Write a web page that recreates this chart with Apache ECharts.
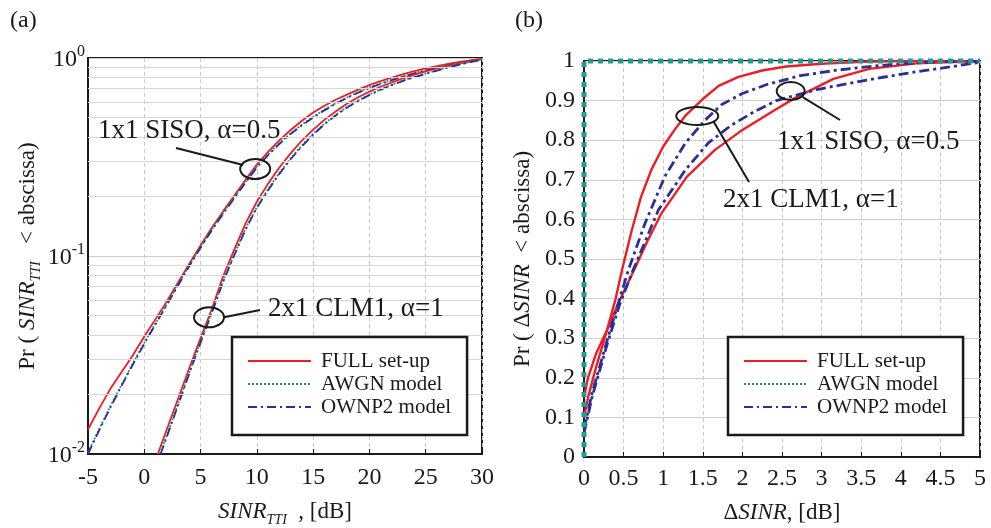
<!DOCTYPE html>
<html><head><meta charset="utf-8">
<script src="https://cdn.jsdelivr.net/npm/echarts@6/dist/echarts.min.js"></script>
<style>html,body{margin:0;padding:0;background:#fff}#c{width:991px;height:528px}</style>
</head><body><div id="c"></div>
<script>
const FONT = '"Liberation Serif", "DejaVu Serif", serif';
const RED = '#ee1c25', GREEN = '#1b8f72', BLUE = '#2b2f96', TEAL = '#1f9c94', INK = '#1a1a1a';

// ---------- Panel (a): CDF of SINR_TTI (log y) ----------
const leftSisoFull = [[-5,0.0133],[-4,0.0170],[-3,0.0214],[-2,0.0260],[-1,0.0316],[0,0.0392],[1,0.0480],[2,0.0590],[3,0.0735],[4,0.0915],[5,0.113],[6,0.139],[7,0.168],[8,0.202],[9,0.243],[10,0.290],[11,0.336],[12,0.384],[13,0.433],[14,0.482],[15,0.530],[16,0.574],[17,0.615],[18,0.653],[19,0.692],[20,0.730],[21,0.765],[22,0.797],[23,0.828],[24,0.858],[25,0.886],[26,0.911],[27,0.934],[28,0.955],[29,0.974],[30,0.990]];
const leftSisoAwgn = [[-5,0.0102],[-4,0.0134],[-3,0.0175],[-2,0.0225],[-1,0.0288],[0,0.0365],[1,0.0458],[2,0.0572],[3,0.0716],[4,0.0897],[5,0.111],[6,0.136],[7,0.165],[8,0.198],[9,0.237],[10,0.283],[11,0.326],[12,0.371],[13,0.416],[14,0.461],[15,0.504],[16,0.548],[17,0.591],[18,0.632],[19,0.672],[20,0.709],[21,0.744],[22,0.777],[23,0.809],[24,0.840],[25,0.869],[26,0.896],[27,0.922],[28,0.946],[29,0.967],[30,0.987]];
const leftSisoOwnp2 = [[-5,0.0100],[-4,0.0132],[-3,0.0172],[-2,0.0222],[-1,0.0284],[0,0.0360],[1,0.0452],[2,0.0566],[3,0.0710],[4,0.0890],[5,0.110],[6,0.135],[7,0.163],[8,0.196],[9,0.235],[10,0.280],[11,0.323],[12,0.368],[13,0.413],[14,0.457],[15,0.500],[16,0.544],[17,0.587],[18,0.628],[19,0.668],[20,0.705],[21,0.740],[22,0.773],[23,0.805],[24,0.836],[25,0.866],[26,0.893],[27,0.919],[28,0.943],[29,0.965],[30,0.985]];
const leftClmFull = [[1.2,0.0100],[2,0.0133],[3,0.0190],[4,0.0272],[5,0.0385],[6,0.0540],[7,0.0790],[8,0.108],[9,0.146],[10,0.188],[11,0.232],[12,0.280],[13,0.330],[14,0.383],[15,0.435],[16,0.487],[17,0.537],[18,0.588],[19,0.634],[20,0.676],[21,0.716],[22,0.754],[23,0.790],[24,0.824],[25,0.856],[26,0.886],[27,0.914],[28,0.940],[29,0.964],[30,0.987]];
const leftClmAwgn = [[1.4,0.0100],[2,0.0124],[3,0.0179],[4,0.0259],[5,0.0370],[6,0.0522],[7,0.0750],[8,0.102],[9,0.138],[10,0.177],[11,0.218],[12,0.263],[13,0.311],[14,0.362],[15,0.414],[16,0.466],[17,0.516],[18,0.565],[19,0.611],[20,0.654],[21,0.695],[22,0.734],[23,0.771],[24,0.804],[25,0.836],[26,0.868],[27,0.899],[28,0.929],[29,0.956],[30,0.982]];
const leftClmOwnp2 = [[1.45,0.0100],[2,0.0122],[3,0.0176],[4,0.0255],[5,0.0365],[6,0.0515],[7,0.0740],[8,0.101],[9,0.136],[10,0.175],[11,0.215],[12,0.260],[13,0.308],[14,0.358],[15,0.410],[16,0.462],[17,0.512],[18,0.561],[19,0.607],[20,0.650],[21,0.691],[22,0.730],[23,0.767],[24,0.800],[25,0.832],[26,0.864],[27,0.895],[28,0.925],[29,0.953],[30,0.980]];
const leftMinorGrid = [0.02,0.03,0.04,0.05,0.06,0.07,0.08,0.09,0.2,0.3,0.4,0.5,0.6,0.7,0.8,0.9];

// ---------- Panel (b): CDF of delta SINR ----------
const rightAwgn = [[0,0],[0,1],[5,1]];
const rightClmFull = [[0,0.10],[0.05,0.15],[0.15,0.225],[0.29,0.32],[0.4,0.40],[0.48,0.472],[0.6,0.57],[0.72,0.657],[0.85,0.725],[1.0,0.784],[1.15,0.828],[1.28,0.862],[1.5,0.904],[1.7,0.937],[1.95,0.960],[2.25,0.976],[2.55,0.986],[3.0,0.993],[3.5,0.998],[4.0,1.0],[5,1.0]];
const rightSisoFull = [[0,0.15],[0.05,0.20],[0.15,0.26],[0.29,0.32],[0.45,0.395],[0.65,0.48],[0.8,0.545],[0.98,0.616],[1.3,0.708],[1.65,0.775],[2.0,0.826],[2.4,0.875],[2.65,0.905],[3.15,0.955],[3.6,0.980],[4.2,0.994],[5,1.0]];
const rightClmOwnp2 = [[0,0.07],[0.1,0.16],[0.3,0.30],[0.45,0.40],[0.56,0.472],[0.77,0.59],[1.02,0.708],[1.28,0.793],[1.53,0.851],[1.74,0.89],[2.0,0.918],[2.3,0.94],[2.73,0.963],[3.2,0.977],[3.6,0.986],[4.0,0.993],[4.5,0.998],[5,1.0]];
const rightSisoOwnp2 = [[0,0.06],[0.1,0.15],[0.3,0.29],[0.45,0.385],[0.62,0.472],[0.94,0.624],[1.28,0.725],[1.57,0.793],[1.86,0.838],[2.15,0.872],[2.43,0.90],[2.94,0.928],[3.57,0.952],[4.2,0.973],[4.62,0.985],[5,0.997]];

const legendNames = ['FULL set-up','AWGN model','OWNP2 model'];

const chart = echarts.init(document.getElementById('c'), null, {renderer:'canvas'});

const nameRich = {
  n: {fontFamily: FONT, fontSize: 23, color: INK, verticalAlign: 'top', lineHeight: 28},
  i: {fontFamily: FONT, fontSize: 23, fontStyle: 'italic', color: INK, verticalAlign: 'top', lineHeight: 28},
  s: {fontFamily: FONT, fontSize: 14, fontStyle: 'italic', color: INK, verticalAlign: 'top', lineHeight: 18, padding: [13,0,0,0]}
};
const tickLabel = {fontFamily: FONT, fontSize: 24, color: INK};
const axisLine = {show: true, onZero: false, lineStyle: {color: INK, width: 2}};
const axisTick = {show: true, inside: true, length: 5, lineStyle: {color: INK, width: 1}};
const vGrid = {show: true, lineStyle: {color: '#c9c9c9', type: [4,3], width: 1}};
const hGrid = {show: true, lineStyle: {color: '#cfcfcf', type: 'solid', width: 1}};

function lineSeries(name, data, xi, color, type, width, z) {
  return {name, type: 'line', xAxisIndex: xi, yAxisIndex: xi, data, symbol: 'none',
    showSymbol: false, z: z || 3, animation: false, silent: true,
    lineStyle: {color, type, width}, itemStyle: {color}};
}
const dashDot = [9,4,2,4];

const legendBase = {
  orient: 'vertical', top: 337, padding: [13,16,17,15],
  borderColor: INK, borderWidth: 2.5, backgroundColor: '#fff',
  itemWidth: 63, itemHeight: 14, itemGap: 1, selectedMode: false,
  itemStyle: {opacity: 0, borderWidth: 0},
  textStyle: {fontFamily: FONT, fontSize: 21, color: INK, lineHeight: 22, padding: [0,0,0,5]},
  data: legendNames, z: 20
};

const option = {
  animation: false,
  backgroundColor: '#fff',
  grid: [
    {left: 88, top: 58, width: 394, height: 396, show: true, borderColor: INK, borderWidth: 2, outerBoundsMode: 'none', containLabel: false},
    {left: 584, top: 61, width: 396, height: 396, show: true, borderColor: INK, borderWidth: 2, outerBoundsMode: 'none', containLabel: false}
  ],
  legend: [
    Object.assign({}, legendBase, {left: 232}),
    Object.assign({}, legendBase, {left: 728})
  ],
  xAxis: [
    {gridIndex: 0, type: 'value', min: -5, max: 30, interval: 5,
     axisLine, axisTick, axisLabel: Object.assign({margin: 12}, tickLabel), splitLine: vGrid,
     name: '{i|SINR}{s|TTI}{n|  , [dB]}', nameLocation: 'middle', nameGap: 46,
     nameTextStyle: {rich: nameRich}},
    {gridIndex: 1, type: 'value', min: 0, max: 5, interval: 0.5,
     axisLine, axisTick, axisLabel: Object.assign({margin: 10}, tickLabel), splitLine: vGrid,
     name: '{n|Δ}{i|SINR}{n|, [dB]}', nameLocation: 'middle', nameGap: 44,
     nameTextStyle: {rich: nameRich}}
  ],
  yAxis: [
    {gridIndex: 0, type: 'log', logBase: 10, min: 0.01, max: 1,
     axisLine, axisTick: {show: false}, splitLine: hGrid,
     axisLabel: {margin: 3, formatter: function (v) {
        const e = Math.round(Math.log10(v));
        return '{b|10}{p|' + e + '}';
      },
      rich: {
        b: {fontFamily: FONT, fontSize: 24, color: INK, verticalAlign: 'bottom'},
        p: {fontFamily: FONT, fontSize: 16, color: INK, verticalAlign: 'bottom', padding: [0,0,12,0]}
      }},
     name: '{n|Pr ( }{i|SINR}{s|TTI}{n|   < abscissa)}', nameLocation: 'middle', nameGap: 44,
     nameTextStyle: {rich: nameRich}},
    {gridIndex: 1, type: 'value', min: 0, max: 1, interval: 0.1,
     axisLine, axisTick: {show: false}, splitLine: hGrid,
     axisLabel: Object.assign({margin: 9}, tickLabel),
     name: '{n|Pr ( Δ}{i|SINR}{n|  < abscissa)}', nameLocation: 'middle', nameGap: 45,
     nameTextStyle: {rich: nameRich}}
  ],
  series: [
    {name: 'minor-grid', type: 'line', xAxisIndex: 0, yAxisIndex: 0, data: [], z: 1, silent: true,
     markLine: {silent: true, symbol: ['none','none'], label: {show: false}, animation: false,
       lineStyle: {color: '#d6d6d6', type: 'solid', width: 1},
       data: leftMinorGrid.map(v => ({yAxis: v}))}},
    lineSeries('FULL set-up', leftSisoFull, 0, RED, 'solid', 1.8),
    lineSeries('AWGN model', leftSisoAwgn, 0, GREEN, 'dotted', 1.8),
    lineSeries('OWNP2 model', leftSisoOwnp2, 0, BLUE, dashDot, 1.8),
    lineSeries('FULL set-up', leftClmFull, 0, RED, 'solid', 1.8),
    lineSeries('AWGN model', leftClmAwgn, 0, GREEN, 'dotted', 1.8),
    lineSeries('OWNP2 model', leftClmOwnp2, 0, BLUE, dashDot, 1.8),

    lineSeries('FULL set-up', rightClmFull, 1, RED, 'solid', 2.4),
    lineSeries('FULL set-up', rightSisoFull, 1, RED, 'solid', 2.4),
    lineSeries('OWNP2 model', rightClmOwnp2, 1, BLUE, [10,4,3,4], 2.8),
    lineSeries('OWNP2 model', rightSisoOwnp2, 1, BLUE, [10,4,3,4], 2.8),
    Object.assign(lineSeries('AWGN model', rightAwgn, 1, TEAL, [5,5], 5, 6), {clip: false})
  ]
};
chart.setOption(option);

// Annotations anchored on data coordinates
const e1 = chart.convertToPixel({gridIndex: 0}, [9.85, 0.275]);
const e2 = chart.convertToPixel({gridIndex: 0}, [5.75, 0.049]);
const e3 = chart.convertToPixel({gridIndex: 1}, [1.43, 0.861]);
const e4 = chart.convertToPixel({gridIndex: 1}, [2.61, 0.924]);
const stroke = {stroke: INK, lineWidth: 2, fill: null};
function ell(c, rx, ry) { return {type: 'ellipse', z: 50, shape: {cx: c[0], cy: c[1], rx, ry}, style: Object.assign({}, stroke)}; }
function ln(x1, y1, x2, y2) { return {type: 'line', z: 50, shape: {x1, y1, x2, y2}, style: {stroke: INK, lineWidth: 2}}; }
function txt(x, y, t, size) { return {type: 'text', z: 50, x, y, style: {text: t, font: (size || 27) + 'px ' + FONT, fill: INK, verticalAlign: 'middle', align: 'left'}}; }

chart.setOption({graphic: [
  txt(10, 21, '(a)', 24),
  txt(515, 21, '(b)', 24),
  ell(e1, 15, 10), ln(176, 148, e1[0] - 12, e1[1] - 4), txt(98, 131, '1x1 SISO, α=0.5'),
  ell(e2, 15, 10), ln(e2[0] + 15, e2[1], 260, 310), txt(268, 309, '2x1 CLM1, α=1'),
  ell(e3, 21, 9), ln(e3[0] + 16, e3[1] + 5, 749, 182), txt(723, 200, '2x1 CLM1, α=1'),
  ell(e4, 14, 9), ln(e4[0] + 12, e4[1] + 6, 840, 120), txt(777, 142, '1x1 SISO, α=0.5')
]});
</script>
</body></html>
